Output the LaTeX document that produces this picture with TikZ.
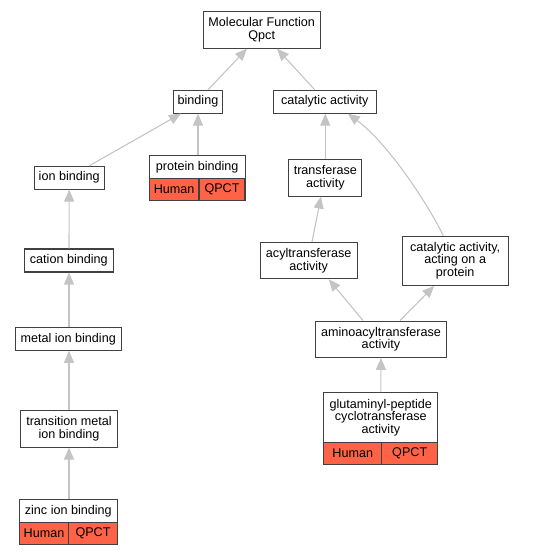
\documentclass[tikz,border=0pt]{standalone}
\usepackage{fontspec}
\setmainfont{Liberation Sans}
\usetikzlibrary{arrows.meta}
\definecolor{boxline}{HTML}{404040}
\definecolor{edgegray}{HTML}{C4C4C4}
\definecolor{hitred}{HTML}{FF6347}
\tikzset{
  term/.style={draw=boxline, line width=1.05pt, fill=white, inner sep=0pt, align=center,
    font=\fontsize{12.6}{12.7}\selectfont},
  cell/.style={draw=boxline, line width=1.05pt, fill=hitred, inner sep=0pt, align=center,
    font=\fontsize{12.6}{12.7}\selectfont},
  isa/.style={draw=edgegray, line width=1.1pt, -{Triangle[length=12pt,width=10pt,fill=edgegray]}},
}
\begin{document}
\begin{tikzpicture}[x=1pt,y=-1pt]
\useasboundingbox (0,0) rectangle (535,555);
% nodes
\node[term, minimum width=117.3pt, minimum height=36.3pt] (mf) at (261.7,30) {Molecular Function\\Qpct};
\node[term, minimum width=49.7pt, minimum height=22.7pt] (bind) at (198,101.7) {binding};
\node[term, minimum width=103pt, minimum height=22.7pt] (cat) at (324.8,101.7) {catalytic activity};
\node[term, minimum width=70.3pt, minimum height=22.7pt] (ion) at (69.2,177.7) {ion binding};
\node[term, minimum width=95.7pt, minimum height=23pt] (prot) at (197.2,166.8) {protein binding};
\node[cell, minimum width=49.7pt, minimum height=21.7pt] (protH) at (174.2,189.2) {Human};
\node[cell, minimum width=46pt, minimum height=21.7pt] (protQ) at (222,189.2) {QPCT};
\node[term, minimum width=73.3pt, minimum height=36.7pt] (trans) at (325.3,177.7) {transferase\\activity};
\node[term, minimum width=89pt, minimum height=23pt] (cation) at (68.8,260.5) {cation binding};
\node[term, minimum width=96.7pt, minimum height=36.4pt] (acyl) at (308.7,260.5) {acyltransferase\\activity};
\node[term, minimum width=105.7pt, minimum height=49.3pt] (cap) at (455.2,260.7) {catalytic activity,\\acting on a\\protein};
\node[term, minimum width=105.7pt, minimum height=23pt] (metal) at (68.2,338.8) {metal ion binding};
\node[term, minimum width=131.4pt, minimum height=36.3pt] (amino) at (381,339.2) {aminoacyltransferase\\activity};
\node[term, minimum width=96.6pt, minimum height=36.7pt] (tmetal) at (69,428.7) {transition metal\\ion binding};
\node[term, minimum width=113.7pt, minimum height=49.6pt] (glut) at (380.8,417.5) {glutaminyl-peptide\\cyclotransferase\\activity};
\node[cell, minimum width=57.7pt, minimum height=21.7pt] (glutH) at (352.8,453.2) {Human};
\node[cell, minimum width=56pt, minimum height=21.7pt] (glutQ) at (409.7,453.2) {QPCT};
\node[term, minimum width=98pt, minimum height=22.6pt] (zinc) at (68.3,511) {zinc ion binding};
\node[cell, minimum width=49.4pt, minimum height=21.7pt] (zincH) at (44,533.2) {Human};
\node[cell, minimum width=48.6pt, minimum height=21.7pt] (zincQ) at (93,533.2) {QPCT};
% edges
\draw[isa] ([xshift=10pt]bind.north) -- ([xshift=-14.7pt]mf.south);
\draw[isa] ([xshift=-10pt]cat.north) -- ([xshift=15.3pt]mf.south);
\draw[isa] ([xshift=20pt]ion.north) -- ([xshift=-17pt]bind.south);
\draw[isa] ([xshift=0.8pt]prot.north) -- (bind.south);
\draw[isa] (trans.north) -- ([xshift=0.5pt]cat.south);
\draw[isa] ([xshift=-12pt]cap.north) .. controls (430,208) and (390,145) .. ([xshift=23pt]cat.south);
\draw[isa] ([xshift=3.3pt]acyl.north) -- ([xshift=-4.3pt]trans.south);
\draw[isa] ([xshift=-18pt]amino.north) -- ([xshift=20pt]acyl.south);
\draw[isa] ([xshift=19pt]amino.north) -- ([xshift=-21pt]cap.south);
\draw[isa] (glut.north) -- (amino.south);
\draw[isa] ([xshift=0.2pt]cation.north) -- (ion.south);
\draw[isa] ([xshift=0.8pt]metal.north) -- ([xshift=0.2pt]cation.south);
\draw[isa] (tmetal.north) -- ([xshift=0.8pt]metal.south);
\draw[isa] ([xshift=0.7pt]zinc.north) -- (tmetal.south);
\end{tikzpicture}
\end{document}
